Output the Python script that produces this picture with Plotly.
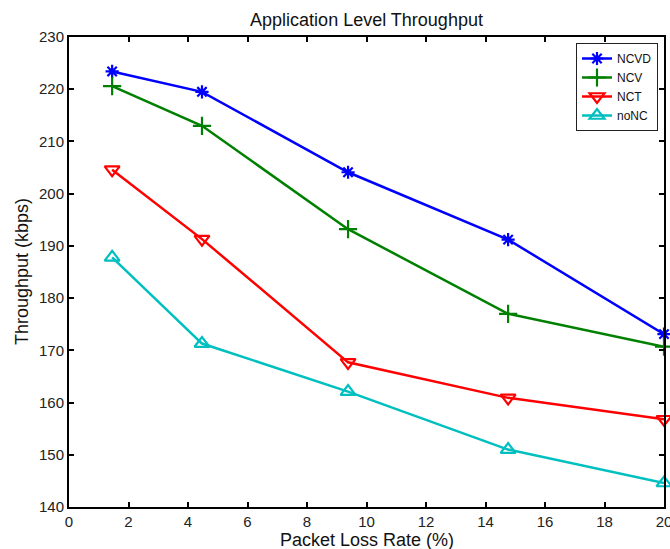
import plotly.graph_objects as go

loss_rate = [1.45, 4.47, 9.38, 14.76, 20.0]
ncvd = [223.4, 219.5, 204.1, 191.2, 173.1]
ncv = [220.6, 213.0, 193.2, 177.0, 170.7]
nct = [204.6, 191.3, 167.7, 160.9, 156.8]
nonc = [187.8, 171.3, 162.1, 151.0, 144.6]

x_ticks = [0, 2, 4, 6, 8, 10, 12, 14, 16, 18, 20]
y_ticks = [140, 150, 160, 170, 180, 190, 200, 210, 220, 230]

series = [
    ("NCVD", ncvd, "#0000FF", "asterisk-open", 11),
    ("NCV", ncv, "#008000", "cross-thin-open", 13),
    ("NCT", nct, "#FF0000", "triangle-down-open", 13),
    ("noNC", nonc, "#00BFBF", "triangle-up-open", 13),
]

fig = go.Figure()
for name, vals, color, sym, sz in series:
    fig.add_trace(go.Scatter(
        x=loss_rate, y=vals, name=name, mode="lines+markers",
        line=dict(color=color, width=2.5),
        marker=dict(symbol=sym, size=sz, color=color,
                    line=dict(color=color, width=2.2)),
        cliponaxis=False,
    ))

# body margin removed below, so figure pixels == page pixels
W, H = 670, 549
L, R, T, B = 69, 6, 37, 42
PW, PH = W - L - R, H - T - B

font = "Liberation Sans, Arial, Helvetica, sans-serif"
fig.update_layout(
    width=W, height=H,
    margin=dict(l=L, r=R, t=T, b=B, autoexpand=False),
    paper_bgcolor="white", plot_bgcolor="white",
    font=dict(family=font, size=15, color="#222222"),
    title=dict(text="Application Level Throughput", x=(L + PW / 2) / W, xanchor="center",
               yref="container", y=1 - 20 / H, yanchor="middle",
               font=dict(size=18, color="#111111")),
    showlegend=True,
    legend=dict(x=(576 - L) / PW, y=1 - (43 - T) / PH, xanchor="left", yanchor="top",
                bgcolor="white", bordercolor="#222222", borderwidth=1,
                font=dict(size=12, color="#111111"),
                tracegroupgap=0, itemwidth=30),
    annotations=[
        dict(text="Packet Loss Rate (%)", xref="paper", yref="paper",
             x=0.5, y=-(540 - (H - B)) / PH, xanchor="center", yanchor="middle",
             showarrow=False, font=dict(size=18, color="#111111")),
        dict(text="Throughput (kbps)", xref="paper", yref="paper",
             x=-(L - 22) / PW, y=0.5, xanchor="center", yanchor="middle",
             textangle=-90, showarrow=False, font=dict(size=18, color="#111111")),
    ],
)
fig.update_xaxes(
    range=[0, 20], tickvals=x_ticks, ticktext=[str(v) for v in x_ticks],
    showgrid=False, zeroline=False, automargin=False, ticklabeloverflow="allow",
    showline=True, linecolor="black", linewidth=2, mirror="ticks",
    ticks="inside", ticklen=5, tickwidth=2, tickcolor="black",
    tickfont=dict(size=15, color="#222222"),
)
fig.update_yaxes(
    range=[140, 230], tickvals=y_ticks, ticktext=[str(v) for v in y_ticks],
    showgrid=False, zeroline=False, automargin=False, ticklabeloverflow="allow",
    showline=True, linecolor="black", linewidth=2, mirror="ticks",
    ticks="inside", ticklen=5, tickwidth=2, tickcolor="black",
    tickfont=dict(size=15, color="#222222"),
)

post = ("document.documentElement.style.overflow='hidden';"
        "document.body.style.overflow='hidden';"
        "document.body.style.margin='0';document.body.style.padding='0';")
fig.write_html("out.html", post_script=post, config={"displayModeBar": False})
